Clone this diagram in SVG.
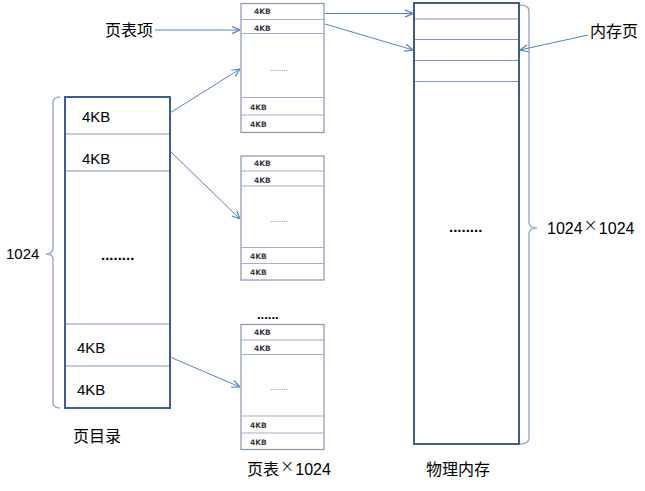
<svg xmlns="http://www.w3.org/2000/svg" width="645" height="491" viewBox="0 0 645 491">
<style>
.bg{fill:#ffffff}
.dir{fill:#ffffff;stroke:#3F5E8C;stroke-width:2}
.tbl{fill:#ffffff;stroke:#8797AE;stroke-width:1.2}
.row{stroke:#7E9CC6;stroke-width:1.2;fill:none}
.trow{stroke:#9DB0CC;stroke-width:1.2;fill:none}
.brace{fill:none;stroke:#9AAECB;stroke-width:1.5}
.conn{stroke:#5A83B8;stroke-width:1;fill:none;marker-end:url(#arr)}
.big{font-family:"Liberation Sans","Noto Sans CJK SC",sans-serif;font-size:15px;fill:#000}
.sm{font-family:"DejaVu Sans",sans-serif;font-size:7.5px;font-weight:bold;fill:#3a3a3a}
.cjk{font-family:"Noto Sans CJK SC",sans-serif;font-size:16px;fill:#000}
.x{font-family:"DejaVu Sans",sans-serif;font-size:17px;font-weight:200;fill:#000}
.dots{font-family:"Liberation Sans",sans-serif;font-size:15px;font-weight:bold;fill:#000}
.sdots{font-family:"Liberation Sans",sans-serif;font-size:8px;fill:#444}
</style>
<defs>
<marker id="arr" viewBox="0 0 10 10" refX="10" refY="5" markerWidth="9" markerHeight="9" orient="auto" markerUnits="userSpaceOnUse">
<path d="M1,1 L10,5 L1,9" fill="none" stroke="#5A83B8" stroke-width="1.3"/>
</marker>
</defs>
<rect class="bg" x="0" y="0" width="645" height="491"/>

<g id="page-directory">
<rect class="dir" x="65" y="97" width="105" height="311"/>
<line class="row" x1="66" y1="134" x2="169" y2="134"/>
<line class="row" x1="66" y1="171" x2="169" y2="171"/>
<line class="row" x1="66" y1="324" x2="169" y2="324"/>
<line class="row" x1="66" y1="366" x2="169" y2="366"/>
<text class="big" x="82" y="122">4KB</text>
<text class="big" x="82" y="164">4KB</text>
<text class="dots" x="101" y="260">........</text>
<text class="big" x="77" y="353">4KB</text>
<text class="big" x="77" y="395">4KB</text>
<path class="brace" d="M60,97 Q53,97 53,103 V248 Q53,254 46,254 Q53,254 53,260 V402 Q53,408 60,408"/>
<text class="big" x="6" y="259">1024</text>
<text class="cjk" x="73" y="442">页目录</text>
</g>

<g id="page-table-1">
<rect class="tbl" x="241" y="3.5" width="83" height="129"/>
<line class="trow" x1="241" y1="19.5" x2="324" y2="19.5"/>
<line class="trow" x1="241" y1="33.5" x2="324" y2="33.5"/>
<line class="trow" x1="241" y1="97.5" x2="324" y2="97.5"/>
<line class="trow" x1="241" y1="115" x2="324" y2="115"/>
<text class="sm" x="254" y="13.5">4KB</text>
<text class="sm" x="254" y="30.5">4KB</text>
<text class="sdots" x="270" y="71">........</text>
<text class="sm" x="250" y="109.5">4KB</text>
<text class="sm" x="250" y="127">4KB</text>
</g>

<g id="page-table-2">
<rect class="tbl" x="241" y="156" width="83" height="124"/>
<line class="trow" x1="241" y1="171" x2="324" y2="171"/>
<line class="trow" x1="241" y1="186" x2="324" y2="186"/>
<line class="trow" x1="241" y1="247.5" x2="324" y2="247.5"/>
<line class="trow" x1="241" y1="263.5" x2="324" y2="263.5"/>
<text class="sm" x="254" y="166">4KB</text>
<text class="sm" x="254" y="182.5">4KB</text>
<text class="sdots" x="270" y="222">........</text>
<text class="sm" x="250" y="258.5">4KB</text>
<text class="sm" x="250" y="275">4KB</text>
</g>

<g id="page-table-3">
<text class="dots" x="257" y="319" style="font-size:13px">......</text>
<rect class="tbl" x="241" y="324.5" width="83" height="125"/>
<line class="trow" x1="241" y1="340" x2="324" y2="340"/>
<line class="trow" x1="241" y1="354.5" x2="324" y2="354.5"/>
<line class="trow" x1="241" y1="416" x2="324" y2="416"/>
<line class="trow" x1="241" y1="433" x2="324" y2="433"/>
<text class="sm" x="254" y="335">4KB</text>
<text class="sm" x="254" y="351">4KB</text>
<text class="sdots" x="270" y="390">........</text>
<text class="sm" x="250" y="427.5">4KB</text>
<text class="sm" x="250" y="444.5">4KB</text>
<text class="cjk" x="247" y="475">页表<tspan class="x" dx="1" dy="-3">×</tspan><tspan class="big" dx="1" dy="3" style="font-size:16px">1024</tspan></text>
</g>

<g id="physical-memory">
<rect class="dir" x="414" y="3" width="105" height="441"/>
<line class="row" x1="415" y1="19" x2="518" y2="19"/>
<line class="row" x1="415" y1="39.5" x2="518" y2="39.5"/>
<line class="row" x1="415" y1="60.5" x2="518" y2="60.5"/>
<line class="row" x1="415" y1="81.5" x2="518" y2="81.5"/>
<text class="dots" x="449" y="232">........</text>
<path class="brace" d="M520,5 Q529,5 529,11 V222 Q529,228 537,228 Q529,228 529,234 V438 Q529,444 520,444"/>
<text class="big" x="547" y="234" style="font-size:16px">1024<tspan class="x" dx="1" dy="-3">×</tspan><tspan dx="1" dy="3">1024</tspan></text>
<text class="cjk" x="426" y="475">物理内存</text>
</g>

<g id="label-pte">
<text class="cjk" x="105" y="36">页表项</text>
</g>
<g id="label-page">
<text class="cjk" x="590" y="37">内存页</text>
</g>

<g id="connectors">
<line class="conn" x1="155" y1="30" x2="240" y2="30"/>
<line class="conn" x1="170" y1="113" x2="240" y2="69"/>
<line class="conn" x1="170" y1="151" x2="240" y2="219"/>
<line class="conn" x1="170" y1="357" x2="240" y2="387"/>
<line class="conn" x1="325" y1="13.5" x2="413" y2="13.5"/>
<line class="conn" x1="325" y1="24" x2="413" y2="50"/>
<line class="conn" x1="588" y1="35" x2="520" y2="50"/>
</g>
</svg>
